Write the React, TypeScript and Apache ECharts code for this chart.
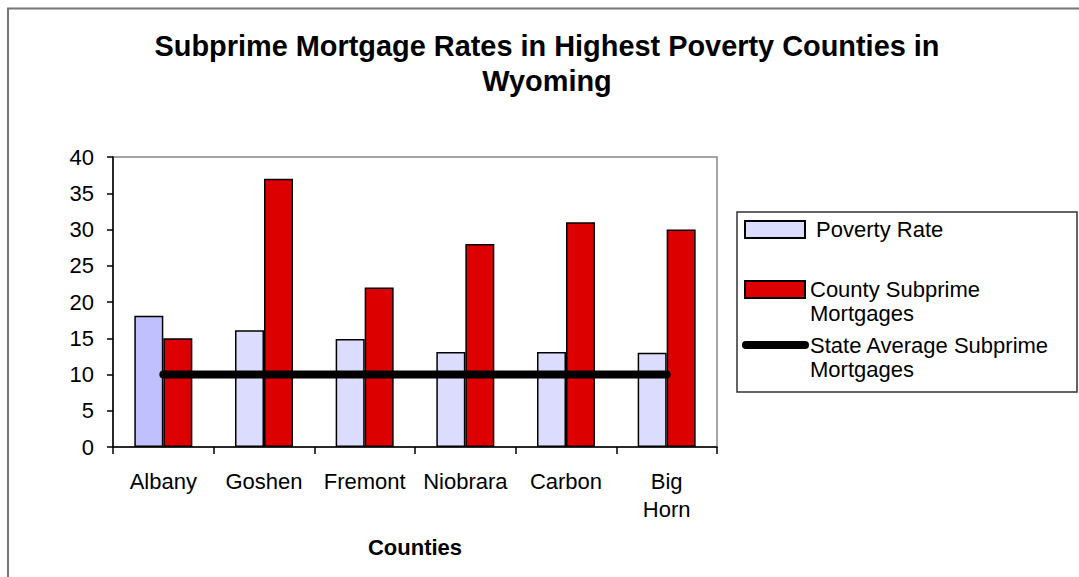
import React, { useEffect, useRef } from "react";
import * as echarts from "echarts";

const counties = ["Albany", "Goshen", "Fremont", "Niobrara", "Carbon", "Big Horn"];
const povertyRate = [18.1, 16.1, 14.9, 13.1, 13.1, 13.0];
const countySubprime = [15, 37, 22, 28, 31, 30];
const stateAverage = [10, 10, 10, 10, 10, 10];
const yTicks = { min: 0, max: 40, interval: 5 };

const FONT = "'Liberation Sans', Arial, sans-serif";

export default function App() {
  const ref = useRef<HTMLDivElement>(null);
  useEffect(() => {
    if (!ref.current) return;
    const chart = echarts.init(ref.current, null, { renderer: "svg" });
    const povertyData = povertyRate.map((v, i) =>
      i === 0 ? { value: v, itemStyle: { color: "#c0c0ff" } } : v
    );
    chart.setOption({
      animation: false,
      backgroundColor: "#ffffff",
      textStyle: { fontFamily: FONT },
      title: {
        text: "Subprime Mortgage Rates in Highest Poverty Counties in\nWyoming",
        left: 547,
        textAlign: "center",
        top: 28,
        padding: 0,
        textStyle: {
          fontFamily: FONT,
          fontSize: 28.9,
          fontWeight: "bold",
          color: "#000",
          lineHeight: 35,
        },
      },
      grid: {
        left: 113,
        top: 157,
        right: 362,
        bottom: 130,
        show: true,
        borderColor: "#888",
        borderWidth: 1.5,
        containLabel: false,
      },
      legend: [
        {
          data: [{ name: "Poverty Rate", icon: "rect" }],
          orient: "vertical",
          left: 744,
          top: 218.5,
          padding: 0,
          itemWidth: 60,
          itemHeight: 17,
          selectedMode: false,
          formatter: () => " Poverty Rate",
          textStyle: { fontFamily: FONT, fontSize: 22, color: "#000", lineHeight: 22 },
        },
        {
          data: [{ name: "County Subprime Mortgages", icon: "rect" }],
          orient: "vertical",
          left: 744,
          top: 253.5,
          padding: 0,
          itemWidth: 60,
          itemHeight: 17,
          selectedMode: false,
          formatter: () => "\nCounty Subprime\nMortgages",
          textStyle: { fontFamily: FONT, fontSize: 22, color: "#000", lineHeight: 24 },
        },
        {
          data: [{ name: "State Average Subprime Mortgages" }],
          orient: "vertical",
          left: 742,
          top: 309,
          padding: 0,
          itemWidth: 59,
          itemHeight: 8,
          selectedMode: false,
          lineStyle: { width: 8, cap: "round" },
          formatter: () => "\nState Average Subprime\nMortgages",
          textStyle: { fontFamily: FONT, fontSize: 22, color: "#000", lineHeight: 24 },
        },
      ],
      graphic: [
        {
          type: "rect",
          shape: { x: 8, y: 8.5, width: 1200, height: 700 },
          style: { fill: "none", stroke: "#777", lineWidth: 2 },
          silent: true,
        },
        {
          type: "rect",
          shape: { x: 737, y: 212, width: 340, height: 180 },
          style: { fill: "none", stroke: "#333", lineWidth: 1.5 },
          silent: true,
        },
      ],
      xAxis: {
        type: "category",
        data: counties,
        name: "Counties",
        nameLocation: "middle",
        nameGap: 89,
        nameTextStyle: { fontFamily: FONT, fontSize: 22, fontWeight: "bold", color: "#000" },
        axisLine: { lineStyle: { color: "#000", width: 1.5 } },
        axisTick: { show: true, length: 7, lineStyle: { color: "#000", width: 1.5 } },
        axisLabel: {
          fontFamily: FONT,
          fontSize: 22,
          color: "#000",
          margin: 20,
          lineHeight: 28,
          interval: 0,
          formatter: (v: string) => v.replace(" ", "\n"),
        },
        splitLine: { show: false },
      },
      yAxis: {
        type: "value",
        min: yTicks.min,
        max: yTicks.max,
        interval: yTicks.interval,
        axisLine: { show: true, lineStyle: { color: "#000", width: 1.5 } },
        axisTick: { show: true, length: 6, lineStyle: { color: "#000", width: 1.5 } },
        axisLabel: { fontFamily: FONT, fontSize: 22, color: "#000", margin: 19 },
        splitLine: { show: false },
      },
      series: [
        {
          name: "Poverty Rate",
          type: "bar",
          data: povertyData,
          barWidth: 29,
          barGap: "0%",
          itemStyle: { color: "#dcdcff", borderColor: "#000", borderWidth: 1.5 },
        },
        {
          name: "County Subprime Mortgages",
          type: "bar",
          data: countySubprime,
          barWidth: 29,
          barGap: "0%",
          itemStyle: { color: "#dd0000", borderColor: "#000", borderWidth: 1.5 },
        },
        {
          name: "State Average Subprime Mortgages",
          type: "line",
          data: stateAverage,
          symbol: "none",
          z: 5,
          itemStyle: { color: "#000" },
          lineStyle: { color: "#000", width: 8, cap: "round" },
        },
      ],
    });
    return () => chart.dispose();
  }, []);
  return (
    <div
      ref={ref}
      style={{ position: "absolute", left: 0, top: 0, width: 1079, height: 577 }}
    />
  );
}
